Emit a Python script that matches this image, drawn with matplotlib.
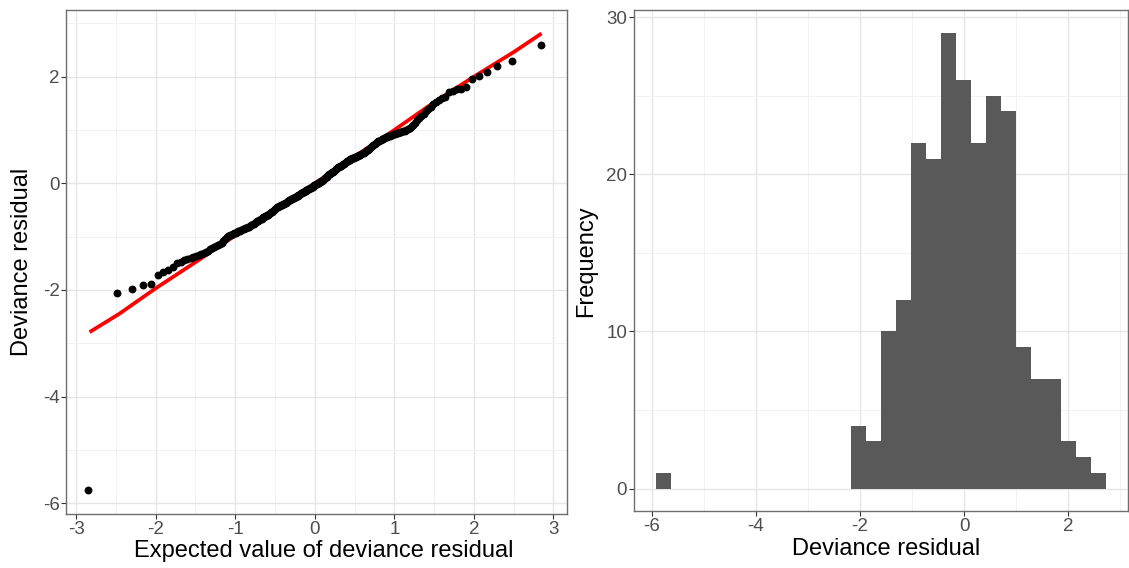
import matplotlib
matplotlib.use("Agg")
import matplotlib.pyplot as plt
from matplotlib.ticker import MultipleLocator
from statistics import NormalDist

# ---------------- data ----------------
# sorted deviance residuals (read from the QQ plot / histogram)
residuals = [
    -5.76,
    -2.06, -1.99, -1.91, -1.89,
    -1.72, -1.66, -1.62,
    -1.56, -1.50, -1.47, -1.44, -1.42, -1.40, -1.38, -1.36, -1.34, -1.32,
    -1.30, -1.28, -1.26, -1.24, -1.22, -1.20, -1.17, -1.15, -1.13, -1.11, -1.08, -1.05,
    -1.01, -0.99, -0.97, -0.96, -0.95, -0.94, -0.93, -0.91, -0.90, -0.89, -0.88,
    -0.86, -0.85, -0.84, -0.83, -0.82, -0.81, -0.80, -0.79, -0.77, -0.76, -0.74,
    -0.72, -0.71, -0.70, -0.68, -0.67, -0.66, -0.64, -0.63, -0.62, -0.61, -0.60,
    -0.59, -0.57, -0.56, -0.54, -0.53, -0.51, -0.50, -0.48, -0.47, -0.45,
    -0.44, -0.43, -0.42, -0.41, -0.40, -0.39, -0.38, -0.37, -0.36, -0.35, -0.34,
    -0.33, -0.32, -0.31, -0.30, -0.29, -0.28, -0.27, -0.26, -0.25, -0.24, -0.23,
    -0.22, -0.21, -0.20, -0.19, -0.18, -0.17, -0.16,
    -0.15, -0.14, -0.13, -0.12, -0.11, -0.10, -0.09, -0.08, -0.07, -0.06, -0.05,
    -0.04, -0.03, -0.02, -0.01, 0.00, 0.01, 0.02, 0.03, 0.04, 0.05, 0.07, 0.08,
    0.10, 0.11, 0.12,
    0.14, 0.15, 0.17, 0.18, 0.19, 0.21, 0.22, 0.23, 0.25, 0.26, 0.27, 0.28, 0.30,
    0.31, 0.32, 0.33, 0.35, 0.36, 0.37, 0.39, 0.40, 0.41,
    0.42, 0.43, 0.44, 0.45, 0.46, 0.47, 0.48, 0.48, 0.49, 0.50, 0.51, 0.52, 0.53,
    0.54, 0.55, 0.56, 0.57, 0.59, 0.60, 0.62, 0.63, 0.64, 0.66, 0.68, 0.70,
    0.71, 0.73, 0.75, 0.77, 0.79, 0.80, 0.82, 0.83, 0.84, 0.85, 0.86, 0.87, 0.88,
    0.89, 0.90, 0.91, 0.92, 0.93, 0.94, 0.95, 0.96, 0.97, 0.98, 0.99,
    1.00, 1.02, 1.04, 1.07, 1.10, 1.14, 1.18, 1.22, 1.26,
    1.30, 1.35, 1.40, 1.44, 1.49, 1.53, 1.56,
    1.60, 1.62, 1.72, 1.74, 1.76, 1.77, 1.80,
    1.96, 2.01, 2.09,
    2.20, 2.29,
    2.60,
]

# red "expected value" reference line
line_x = [-2.83, -2.46, -2.0, -1.5, -1.0, -0.5, 0.0, 0.5, 1.0, 1.5, 2.0, 2.5, 2.85]
line_y = [-2.79, -2.45, -1.97, -1.48, -0.98, -0.49, 0.0, 0.50, 1.00, 1.52, 2.00, 2.46, 2.81]

# histogram (30 bins)
hist_counts = [1, 0, 0, 0, 0, 0, 0, 0, 0, 0, 0, 0, 0,
               4, 3, 10, 12, 22, 21, 29, 26, 22, 25, 24, 9, 7, 7, 3, 2, 1]
hist_first_edge = -5.91
hist_bin_width = 0.2877

left_xticks = [-3, -2, -1, 0, 1, 2, 3]
left_yticks = [-6, -4, -2, 0, 2]
right_xticks = [-6, -4, -2, 0, 2]
right_yticks = [0, 10, 20, 30]

# ---------------- style ----------------
plt.rcParams["font.family"] = ["Liberation Sans", "DejaVu Sans"]
TICK_COLOR = "#4D4D4D"
BORDER = "#6E6E6E"


def style(ax, xmaj, ymaj, xmin_step, ymin_step):
    ax.set_facecolor("white")
    ax.xaxis.set_minor_locator(MultipleLocator(xmin_step))
    ax.yaxis.set_minor_locator(MultipleLocator(ymin_step))
    ax.set_xticks(xmaj)
    ax.set_yticks(ymaj)
    ax.grid(True, which="major", color="#E6E6E6", linewidth=1.0, zorder=0)
    ax.grid(True, which="minor", color="#F2F2F2", linewidth=0.7, zorder=0)
    ax.set_axisbelow(True)
    for s in ax.spines.values():
        s.set_color(BORDER)
        s.set_linewidth(1.0)
    ax.tick_params(which="major", length=3.5, width=0.8, color="#333333",
                   labelsize=13.5, labelcolor=TICK_COLOR, pad=1.5)
    ax.tick_params(which="minor", length=0)


fig = plt.figure(figsize=(11.29, 5.68), dpi=100)

# ---------------- left: QQ plot ----------------
ax1 = fig.add_axes([0.0589, 0.0942, 0.4433, 0.8882])
style(ax1, left_xticks, left_yticks, 0.5, 1.0)
n = len(residuals)
theo = [NormalDist().inv_cdf((i + 0.5) / n) for i in range(n)]
ax1.plot(line_x, line_y, color="#FF0000", linewidth=2.7, zorder=2,
         solid_capstyle="butt")
ax1.scatter(theo, residuals, s=32, color="black", linewidths=0, zorder=3)
ax1.set_xlim(-3.12, 3.17)
ax1.set_ylim(-6.21, 3.25)
ax1.set_xticklabels([str(t) for t in left_xticks])
ax1.set_yticklabels([str(t) for t in left_yticks])
ax1.set_xlabel("Expected value of deviance residual", fontsize=17, color="black")
ax1.set_ylabel("Deviance residual", fontsize=17, color="black")
ax1.xaxis.set_label_coords(0.514, -0.073)
ax1.xaxis.label.set_va("center")
ax1.yaxis.set_label_coords(-0.089, 0.5)
ax1.yaxis.label.set_va("center")

# ---------------- right: histogram ----------------
ax2 = fig.add_axes([0.5616, 0.0996, 0.4376, 0.8827])
style(ax2, right_xticks, right_yticks, 1.0, 5.0)
lefts = [hist_first_edge + i * hist_bin_width for i in range(len(hist_counts))]
ax2.bar(lefts, hist_counts, width=hist_bin_width, align="edge",
        color="#595959", linewidth=0, zorder=2)
ax2.set_xlim(-6.34, 3.15)
ax2.set_ylim(-1.45, 30.45)
ax2.set_xticklabels([str(t) for t in right_xticks])
ax2.set_yticklabels([str(t) for t in right_yticks])
ax2.set_xlabel("Deviance residual", fontsize=17, color="black")
ax2.set_ylabel("Frequency", fontsize=17, color="black")
ax2.xaxis.set_label_coords(0.51, -0.075)
ax2.xaxis.label.set_va("center")
ax2.yaxis.set_label_coords(-0.097, 0.5)
ax2.yaxis.label.set_va("center")

fig.savefig("out.png", dpi=100, facecolor="white")
